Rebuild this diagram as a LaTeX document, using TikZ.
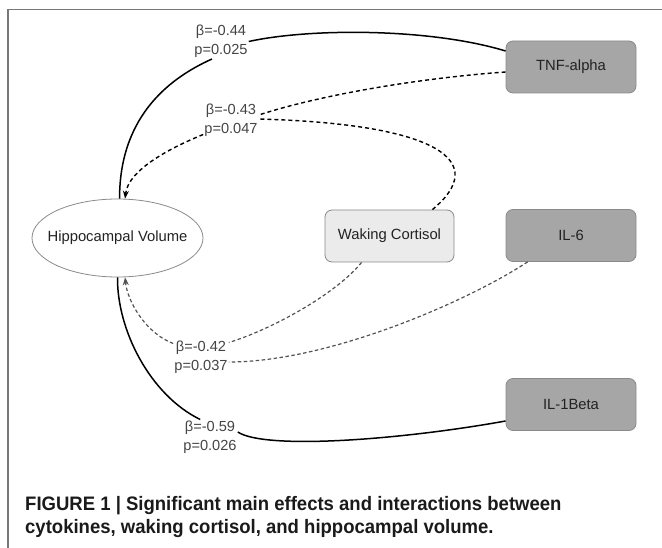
\documentclass[tikz,border=0pt]{standalone}
\usepackage{fontspec}
\setmainfont{Liberation Sans}
\newfontfamily\capfont[FakeStretch=0.95]{Liberation Sans}
\usetikzlibrary{shapes.geometric,arrows.meta}
\definecolor{boxdark}{HTML}{A6A6A6}
\definecolor{boxlight}{HTML}{EBEBEB}
\definecolor{boxborder}{HTML}{8A8A8A}
\definecolor{txt}{HTML}{222222}
\definecolor{lbltxt}{HTML}{444444}
\definecolor{captxt}{HTML}{1A1A1A}
\definecolor{framecol}{HTML}{777777}
\begin{document}
\begin{tikzpicture}[x=1pt,y=-1pt,
  box/.style={draw=boxborder, line width=0.8pt, rounded corners=7pt, minimum width=130pt, minimum height=52pt, inner sep=0pt, font=\fontsize{14.8}{17}\selectfont, text=txt},
  darkbox/.style={box, fill=boxdark},
  lightbox/.style={box, fill=boxlight, minimum width=129pt},
  lbl/.style={align=center, inner sep=1pt, font=\fontsize{14.6}{19}\selectfont, text=lbltxt},
  solidedge/.style={line width=1.5pt, draw=black},
  dashedge/.style={line width=1.4pt, dash pattern=on 4pt off 3pt, draw=black},
  lightdash/.style={line width=1.2pt, dash pattern=on 3.5pt off 2.5pt, draw=black!68},
  tip/.style={-{Stealth[length=8pt,width=6pt]}},
  capline/.style={anchor=base west, inner sep=0pt, font=\capfont\bfseries\fontsize{19.5}{23}\selectfont, text=captxt}
]
\useasboundingbox (0,0) rectangle (662,548);
\draw[framecol, line width=1.5pt] (8,548) -- (8,9.5) -- (662,9.5);

% nodes
\node[darkbox] (tnf) at (571,67) {TNF-alpha};
\node[darkbox] (il6) at (571,235.5) {IL-6};
\node[darkbox] (il1) at (571,404.5) {IL-1Beta};
\node[lightbox] (cort) at (389.5,236) {Waking Cortisol};
\node[ellipse, draw=boxborder, line width=0.8pt, fill=white, minimum width=171pt, minimum height=78pt, inner sep=0pt, font=\fontsize{14.8}{17}\selectfont, text=txt] (hippo) at (117.5,238) {\makebox[0pt]{Hippocampal Volume}};

% labels
\node[lbl] (l1) at (221,41.5) {β=-0.44\\p=0.025};
\node[lbl] (l2) at (231,120) {β=-0.43\\p=0.047};
\node[lbl] (l3) at (201,357) {β=-0.42\\p=0.037};
\node[lbl] (l4) at (210,437) {β=-0.59\\p=0.026};

% TNF-alpha main effect
\draw[solidedge] ([yshift=16pt]tnf.west) .. controls (430,28) and (310,28) .. (l1.east);
\draw[solidedge] ([xshift=-9pt]l1.south) .. controls (165,80) and (119.5,120) .. (hippo.87);

% TNF-alpha x cortisol interaction
\draw[dashedge] ([yshift=-5pt]tnf.west) .. controls (420,78) and (320,95) .. ([yshift=5pt]l2.east);
\draw[dashedge] ([xshift=-22pt]cort.north east) .. controls (490,162) and (440,124) .. ([yshift=1pt]l2.east);
\draw[dashedge, tip] ([yshift=3pt]l2.south west) .. controls (170,148) and (128,170) .. (hippo.79);

% IL-6 x cortisol interaction
\draw[lightdash] ([xshift=37pt]cort.south west) .. controls (335,295) and (270,330) .. ([yshift=-3pt]l3.north east);
\draw[lightdash] ([xshift=22pt]il6.south west) .. controls (470,300) and (330,362) .. ([yshift=-5pt]l3.east);
\draw[lightdash, tip] ([yshift=-4pt]l3.north west) .. controls (145,333) and (127,300) .. (hippo.-79);

% IL-1Beta main effect
\draw[solidedge] (hippo.south) .. controls (117,330) and (150,395) .. ([xshift=18pt]l4.north west);
\draw[solidedge] ([yshift=5pt]l4.east) .. controls (265,450) and (400,440) .. ([yshift=-16.5pt]il1.west);

% caption
\node[capline] (cap1) at (25,510) {FIGURE 1 | Significant main effects and interactions between};
\node[capline] (cap2) at (25,533) {cytokines, waking cortisol, and hippocampal volume.};
\end{tikzpicture}
\end{document}
